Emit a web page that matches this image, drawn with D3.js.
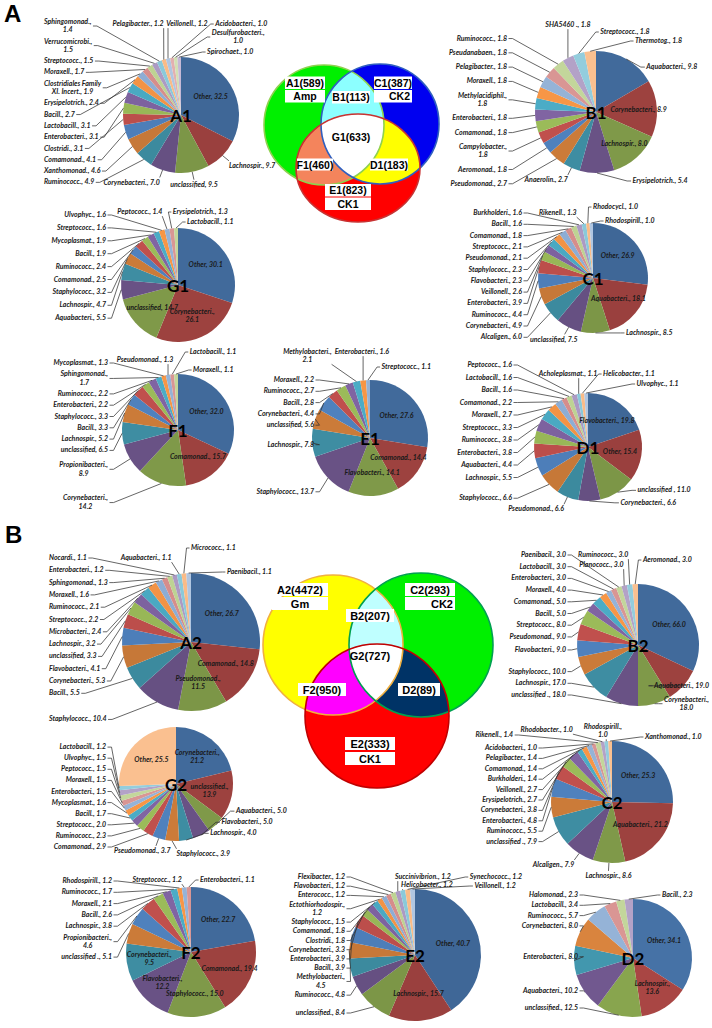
<!DOCTYPE html>
<html>
<head>
<meta charset="utf-8">
<script src="https://cdn.jsdelivr.net/npm/d3@7"></script>
<style>
  body { margin: 0; background: #fff; }
  svg { display: block; }
  .lbl { font-family: Lato, "Liberation Sans", sans-serif; font-size: 7px; font-weight: 700; font-style: italic; fill: #1a1a1a; }
  .ser { font-family: Lato, "Open Sans", sans-serif; font-size: 17px; font-weight: 700; fill: #000; }
  .vtx { font-family: "Liberation Sans", Arial, sans-serif; font-size: 10.5px; font-weight: 700; fill: #000; }
  .panel { font-family: "Liberation Sans", Arial, sans-serif; font-size: 24px; font-weight: 700; fill: #000; }
</style>
</head>
<body>
<div id="chart"></div>
<script>
// ---------- data ----------
const a1Names = ["Other","Lachnospir.","unclassified","Corynebacteri.","Ruminococc.","Xanthomonad.","Comamonad.","Clostridi.","Enterobacteri.","Lactobacill.","Bacill.","Erysipelotrich.","Clostridiales Family XI. Incert.","Moraxell.","Streptococc.","Verrucomicrobi.","Sphingomonad.","Pelagibacter.","Veillonell.","Acidobacteri.","Desulfurobacteri.","Spirochaet."];
const a1Values = [32.5,9.7,9.5,7.0,4.9,4.6,4.1,3.1,3.1,3.1,2.7,2.4,1.9,1.7,1.5,1.5,1.4,1.2,1.2,1.0,1.0,1.0];

const b1Names = ["Aquabacteri.","Corynebacteri.","Lachnospir.","Erysipelotrich.","Anaerolin.","Pseudomonad.","Aeromonad.","Campylobacter.","Comamonad.","Enterobacteri.","Methylacidiphil.","Moraxell.","Pelagibacter.","Pseudanabaen.","Ruminococc.","SHA5460 .","Streptococc.","Thermotog."];
const b1Values = [9.8,8.9,8.0,5.4,2.7,2.7,1.8,1.8,1.8,1.8,1.8,1.8,1.8,1.8,1.8,1.8,1.8,1.8];

const g1Names = ["Other","Corynebacteri.","unclassified","Aquabacteri.","Lachnospir.","Staphylococc.","Comamonad.","Ruminococc.","Bacill.","Mycoplasmat.","Streptococc.","Ulvophyc.","Peptococc.","Erysipelotrich.","Lactobacill."];
const g1Values = [30.1,26.1,14.7,5.5,4.7,3.2,2.5,2.4,1.9,1.9,1.6,1.6,1.4,1.3,1.1];

const c1Names = ["Other","Aquabacteri.","Lachnospir.","unclassified","Alcaligen.","Corynebacteri.","Ruminococc.","Enterobacteri.","Veillonell.","Flavobacteri.","Staphylococc.","Pseudomonad.","Streptococc.","Comamonad.","Bacill.","Burkholderi.","Rikenell.","Rhodocycl.","Rhodospirill."];
const c1Values = [26.9,18.1,8.5,7.5,6.0,4.9,4.4,3.9,2.6,2.3,2.3,2.1,2.1,1.8,1.6,1.6,1.3,1.0,1.0];

const f1Names = ["Other","Comamonad.","Corynebacteri.","Propionibacteri.","unclassified","Lachnospir.","Bacill.","Staphylococc.","Enterobacteri.","Ruminococc.","Sphingomonad.","Mycoplasmat.","Pseudomonad.","Lactobacill.","Moraxell."];
const f1Values = [32.0,15.7,14.2,8.9,6.5,5.2,3.3,3.3,2.2,2.2,1.7,1.3,1.3,1.1,1.1];

const e1Names = ["Other","Comamonad.","Flavobacteri.","Staphylococc.","Lachnospir.","unclassified","Corynebacteri.","Bacill.","Ruminococc.","Moraxell.","Methylobacteri.","Enterobacteri.","Streptococc."];
const e1Values = [27.6,14.4,14.1,13.7,7.8,5.6,4.4,2.8,2.7,2.2,2.1,1.6,1.1];

const d1Names = ["Flavobacteri.","Other","unclassified ","Corynebacteri.","Pseudomonad.","Staphylococc.","Lachnospir.","Aquabacteri.","Enterobacteri.","Ruminococc.","Streptococc.","Moraxell.","Comamonad.","Bacill.","Lactobacill.","Peptococc.","Acholeplasmat.","Helicobacter.","Ulvophyc."];
const d1Values = [19.8,15.4,11.0,6.6,6.6,6.6,5.5,4.4,3.8,3.8,3.3,2.7,2.2,1.6,1.6,1.6,1.1,1.1,1.1];

const a2Names = ["Other","Comamonad.","Pseudomonad.","Staphylococc.","Bacill.","Corynebacteri.","Flavobacteri.","unclassified","Lachnospir.","Microbacteri.","Streptococc.","Ruminococc.","Moraxell.","Sphingomonad.","Enterobacteri.","Nocardi.","Aquabacteri.","Micrococc.","Paenibacil."];
const a2Values = [26.7,14.8,11.5,10.4,5.5,5.3,4.1,3.3,3.2,2.4,2.2,2.1,1.6,1.3,1.2,1.1,1.1,1.1,1.1];

const b2Names = ["Other","Aquabacteri.","Corynebacteri.","unclassified .","Lachnospir.","Staphylococc.","Flavobacteri.","Pseudomonad.","Streptococc.","Bacill.","Comamonad.","Moraxell.","Enterobacteri.","Lactobacill.","Paenibacil.","Planococc.","Ruminococc.","Aeromonad."];
const b2Values = [66.0,19.0,18.0,18.0,17.0,10.0,9.0,9.0,8.0,5.0,5.0,4.0,3.0,3.0,3.0,3.0,3.0,3.0];

const g2Names = ["Corynebacteri.","unclassified.","Aquabacteri.","Flavobacteri.","Lachnospir.","Staphylococc.","Pseudomonad.","Comamonad.","Ruminococc.","Streptococc.","Bacill.","Mycoplasmat.","Enterobacteri.","Moraxell.","Peptococc.","Ulvophyc.","Lactobacill.","Other"];
const g2Values = [21.2,13.9,5.0,5.0,4.0,3.9,3.7,2.9,2.3,2.0,1.7,1.6,1.5,1.5,1.5,1.5,1.2,25.5];

const c2Names = ["Other","Aquabacteri.","Lachnospir.","Alcaligen.","unclassified .","Ruminococc.","Enterobacteri.","Corynebacteri.","Erysipelotrich.","Veillonell.","Burkholderi.","Comamonad.","Pelagibacter.","Acidobacteri.","Rikenell.","Rhodobacter.","Rhodospirill.","Xanthomonad."];
const c2Values = [25.3,21.2,8.6,7.9,7.9,5.5,4.8,3.8,2.7,2.7,1.4,1.4,1.4,1.0,1.4,1.0,1.0,1.0];

const f2Names = ["Other","Comamonad.","Staphylococc.","Flavobacteri.","Corynebacteri.","unclassified .","Propionibacteri.","Lachnospir.","Bacill.","Moraxell.","Ruminococc.","Rhodospirill.","Streptococc.","Enterobacteri."];
const f2Values = [22.7,19.4,15.0,12.2,9.5,5.1,4.6,3.8,2.6,2.1,1.7,1.2,1.2,1.1];

const e2Names = ["Other","Lachnospir.","unclassified.","Ruminococc.","Methylobacteri.","Bacill.","Enterobacteri.","Corynebacteri.","Clostridi.","Comamonad.","Staphylococc.","Ectothiorhodospir.","Enterococc.","Flavobacteri.","Flexibacter.","Succinivibrion.","Helicobacter.","Synechococc.","Veillonell."];
const e2Values = [40.7,15.7,8.4,4.8,4.5,3.9,3.9,3.3,1.8,1.8,1.5,1.2,1.2,1.2,1.2,1.2,1.2,1.2,1.2];

const d2Names = ["Other","Lachnospir.","unclassified.","Aquabacteri.","Enterobacteri.","Corynebacteri.","Ruminococc.","Lactobacill.","Halomonad.","Bacill."];
const d2Values = [34.1,13.6,12.5,10.2,8.0,8.0,5.7,3.4,2.3,2.3];

// Venn region labels
const venn1Text = ["A1(589)","Amp","B1(113)","C1(387)","CK2","G1(633)","F1(460)","D1(183)","E1(823)","CK1"];
const venn2Text = ["A2(4472)","Gm","B2(207)","C2(293)","CK2","G2(727)","F2(950)","D2(89)","E2(333)","CK1"];

// ---------- layout ----------
const W = 712, H = 1028, LH = 8.3;
const svg = d3.select("#chart").append("svg").attr("width", W).attr("height", H);

const pies = [
  {id:"A1", names:a1Names, values:a1Values, cx:181, cy:115, r:58, inside:["Other"], bottom:[130,210],
   colX:44, colAnchor:"start", colTop:26, pad:3,
   wrap:["Sphingomonad.","Verrucomicrobi.","Clostridiales Family XI. Incert.","Desulfurobacteri."],
   topPos:[["middle",-0.74,-33],["middle",0.1,-33],["start",0.59,-33],["start",0.53,-20],["start",0.45,-5]]},
  {id:"B1", names:b1Names, values:b1Values, cx:596, cy:112, r:61, inside:["Corynebacteri.","Lachnospir."], inR:0.7, bottom:[190,212],
   colX:507, colTop:31, pad:6, rDy:8, wrap:["Methylacidiphil.","Campylobacter."],
   topPos:[["middle",-0.46,-26],["start",0.07,-19],["start",0.64,-10]]},
  {id:"G1", names:g1Names, values:g1Values, cx:178, cy:285, r:57, inside:["Other","Corynebacteri.","unclassified"], bottom:[180,200],
   colX:106, colTop:215, pad:4.6, wrap:["Corynebacteri."],
   topPos:[["middle",-0.67,-16],["start",-0.09,-16],["start",0.16,-6]]},
  {id:"C1", names:c1Names, values:c1Values, cx:593, cy:278, r:55, inside:["Other","Aquabacteri."], bottom:[181,215],
   colX:522, colTop:213, pad:3, wrap:[],
   topPos:[["middle",-0.64,-10],["start",0,-16],["start",0.22,-2]]},
  {id:"F1", names:f1Names, values:f1Values, cx:178, cy:430, r:56, inside:["Other","Comamonad."], bottom:[180,180],
   colX:108, colTop:363, pad:3, wrap:["Sphingomonad.","Propionibacteri.","Corynebacteri."],
   topPos:[["middle",-0.59,-14],["start",0.21,-22],["start",0.27,-4]]},
  {id:"E1", names:e1Names, values:e1Values, cx:370, cy:438, r:58, inside:["Other","Comamonad.","Flavobacteri."], bottom:[200,200],
   colX:314, colTop:380, pad:3, wrap:["Methylobacteri."],
   topPos:[["middle",-1.08,-24],["middle",-0.14,-28],["start",0.2,-13]]},
  {id:"D1", names:d1Names, values:d1Values, cx:588, cy:447, r:54, inside:["Flavobacteri.","Other"], bottom:[185,212],
   colX:512, colTop:365, pad:4.2, wrap:[],
   topPos:[["middle",-0.37,-19],["start",0.28,-19],["start",0.9,-9]]},
  {id:"A2", names:a2Names, values:a2Values, cx:191, cy:642, r:69, inside:["Other","Comamonad.","Pseudomonad."], bottom:[200,200],
   colX:49, colAnchor:"start", colTop:558, pad:4, wrap:["Pseudomonad."],
   topPos:[["middle",-0.65,-15],["start",0,-25],["start",0.52,-1]]},
  {id:"B2", names:b2Names, values:b2Values, cx:638, cy:645, r:61, inside:["Other"], bottom:[190,190],
   colX:566, colTop:555, colBot:695, pad:3.4, wrap:["Corynebacteri."],
   topPos:[["middle",-0.6,-19],["middle",-0.57,-29],["start",0.08,-24]]},
  {id:"G2", names:g2Names, values:g2Values, cx:176, cy:784, r:57, inside:["Corynebacteri.","unclassified.","Other"], bottom:[180,203],
   colX:106, colTop:747, colBot:847, pad:2.8, rDy:-11, wrap:["Corynebacteri.","unclassified."], topPos:[]},
  {id:"C2", names:c2Names, values:c2Values, cx:612, cy:802, r:61, inside:["Other","Aquabacteri."], bottom:[175,222],
   colX:537, colTop:748, colBot:842, pad:2.1, wrap:["Rhodospirill."],
   topPos:[["end",-1.62,-6],["middle",-1.07,-11],["middle",-0.15,-10],["start",0.54,-4]]},
  {id:"F2", names:f2Names, values:f2Values, cx:191, cy:952, r:65, inside:["Other","Comamonad.","Staphylococc.","Flavobacteri.","Corynebacteri."], inR:0.65, bottom:[200,200],
   colX:112, colTop:881, pad:3, wrap:["Flavobacteri.","Corynebacteri.","Propionibacteri."],
   topPos:[["middle",-0.52,-7],["start",0.14,-7]]},
  {id:"E2", names:e2Names, values:e2Values, cx:415, cy:955, r:66, inside:["Other","Lachnospir."], bottom:[200,200],
   colX:345, colTop:877, colBot:1013, pad:0.9, wrap:["Ectothiorhodospir.","Methylobacteri."],
   topPos:[["middle",0.12,-12],["middle",0.18,-4],["start",0.83,-12],["start",0.9,-3]]},
  {id:"D2", names:d2Names, values:d2Values, cx:633, cy:958, r:59, inside:["Other","Lachnospir."], bottom:[180,180],
   colX:578, colTop:895, colBot:1008, colDy:-4, colR:64, pad:2, wrap:["Lachnospir."],
   topPos:[["start",0.49,-4]]}
];

// Excel-like colours: six accents, shaded/tinted per cycle
const accents = ["#4F81BD","#C0504D","#9BBB59","#8064A2","#4BACC6","#F79646"];
const shadeTable = {1:[0], 2:[-0.12,0.4], 3:[-0.18,0,0.4], 4:[-0.2,-0.02,0.35,0.55]};
function sliceColor(i, n) {
  const C = Math.min(4, Math.ceil(n / 6)), c = Math.floor(i / 6);
  const b = d3.rgb(accents[i % 6]);
  const s = shadeTable[C][Math.min(c, C - 1)];
  if (s < 0) return d3.rgb(b.r * (1 + s), b.g * (1 + s), b.b * (1 + s)).formatHex();
  return d3.rgb(b.r + (255 - b.r) * s, b.g + (255 - b.g) * s, b.b + (255 - b.b) * s).formatHex();
}

function labelLines(name, v, wrap) {
  const val = v.toFixed(1);
  if (!wrap) return [name + ", " + val];
  const words = name.split(" ");
  if (words.length > 2) return [words.slice(0, 2).join(" "), words.slice(2).join(" ") + ", " + val];
  return [name + ",", val];
}

function measure(lines) {
  const t = svg.append("text").attr("class", "lbl");
  let w = 0;
  lines.forEach(s => { w = Math.max(w, t.append("tspan").text(s).node().getComputedTextLength()); });
  t.remove();
  return w;
}

// spread labels vertically, then keep them inside [yMin, yMax]
function relax(items, pad, yMin, yMax) {
  items.sort((p, q) => p.y - q.y);
  const need = (p, q) => (p.h + q.h) / 2 + pad;
  for (let it = 0; it < 300; it++) {
    let moved = false;
    for (let k = 1; k < items.length; k++) {
      const p = items[k - 1], q = items[k], d = q.y - p.y, nd = need(p, q);
      if (d < nd - 0.01) { const s = (nd - d) / 2; p.y -= s; q.y += s; moved = true; }
    }
    if (!moved) break;
  }
  const n = items.length;
  if (!n) return;
  if (yMin != null && items[0].y < yMin) {
    items[0].y = yMin;
    for (let k = 1; k < n; k++) items[k].y = Math.max(items[k].y, items[k - 1].y + need(items[k - 1], items[k]));
  }
  if (yMax != null && items[n - 1].y > yMax) {
    items[n - 1].y = yMax;
    for (let k = n - 2; k >= 0; k--) items[k].y = Math.min(items[k].y, items[k + 1].y - need(items[k], items[k + 1]));
  }
}

const leaderLine = d3.line();

function drawPie(cfg) {
  const g = svg.append("g").attr("class", "pie-" + cfg.id);
  const n = cfg.names.length;
  const rows = cfg.names.map((name, i) => ({ name, v: cfg.values[i] }));
  const arcs = d3.pie().sort(null).value(d => d.v)(rows);
  const arc = d3.arc().innerRadius(0).outerRadius(cfg.r);
  const nTop = cfg.topPos.length;

  g.append("g").attr("transform", `translate(${cfg.cx},${cfg.cy})`)
    .selectAll("path").data(arcs).join("path")
    .attr("d", arc)
    .attr("fill", d => sliceColor(d.index, n));

  const leads = g.append("g").attr("fill", "none").attr("stroke", "#333").attr("stroke-width", 0.75);
  const texts = g.append("g");

  const items = arcs.map(a => {
    const m = (a.startAngle + a.endAngle) / 2, deg = m * 180 / Math.PI;
    const lines = labelLines(a.data.name, a.data.v, cfg.wrap.includes(a.data.name));
    const it = { a, m, lines, w: measure(lines), h: lines.length * LH };
    it.ex = cfg.cx + cfg.r * Math.sin(m);
    it.ey = cfg.cy - cfg.r * Math.cos(m);
    if (cfg.inside.includes(a.data.name)) it.zone = "in";
    else if (a.index >= n - nTop) it.zone = "top";
    else if (deg < cfg.bottom[0]) it.zone = "right";
    else if (deg <= cfg.bottom[1]) it.zone = "bottom";
    else it.zone = "left";
    return it;
  });
  const zone = z => items.filter(it => it.zone === z);
  const setX = (it, x, anchor) => {
    it.xc = anchor === "end" ? x - it.w / 2 : anchor === "start" ? x + it.w / 2 : x;
  };

  zone("in").forEach(it => {
    const R = (cfg.inR || 0.6) * cfg.r;
    setX(it, cfg.cx + R * Math.sin(it.m), "middle");
    it.yc = cfg.cy - R * Math.cos(it.m);
  });

  const left = zone("left");
  const colR = cfg.colR || cfg.r + 20;
  left.forEach(it => { it.y = cfg.cy + (cfg.colDy || 0) - colR * Math.cos(it.m); });
  relax(left, cfg.pad, cfg.colTop, cfg.colBot);
  left.forEach(it => {
    setX(it, cfg.colX, cfg.colAnchor || "end");
    it.yc = it.y;
    const lx = it.xc + it.w / 2 + 1.5;
    it.lead = [[lx, it.yc], [lx + 4, it.yc], [it.ex, it.ey]];
  });

  const right = zone("right");
  right.forEach(it => { it.y = it.ey + (cfg.rDy || 0); });
  relax(right, cfg.pad);
  right.forEach(it => {
    let x = Math.max(it.ex + 20, cfg.cx + 0.6 * cfg.r);
    if (x + it.w > W - 3) x = W - 3 - it.w;
    setX(it, x, "start");
    it.yc = it.y;
    const lx = it.xc - it.w / 2 - 1.5;
    it.lead = [[lx, it.yc], [lx - 4, it.yc], [it.ex, it.ey]];
  });

  const bottom = zone("bottom");
  bottom.forEach(it => {
    const R = cfg.r + 9, sn = Math.sin(it.m);
    const px = cfg.cx + R * sn, py = cfg.cy - R * Math.cos(it.m);
    setX(it, px, sn > 0.3 ? "start" : sn < -0.3 ? "end" : "middle");
    it.yc = py + it.h / 2;
    it.px = px;
    // stay clear of the column labels on the left
    left.forEach(l => {
      if (Math.abs(l.yc - it.yc) < (l.h + it.h) / 2 + 1) {
        const lr = l.xc + l.w / 2 + 8;
        if (it.xc - it.w / 2 < lr) it.xc = lr + it.w / 2;
      }
    });
  });
  bottom.sort((p, q) => p.xc - q.xc);
  for (let k = 1; k < bottom.length; k++) {
    const p = bottom[k - 1], q = bottom[k];
    const nd = (p.w + q.w) / 2 + 6;
    if (Math.abs(p.yc - q.yc) < (p.h + q.h) / 2) q.xc = Math.max(q.xc, p.xc + nd);
  }
  bottom.forEach(it => {
    const tx = Math.max(it.xc - it.w / 2, Math.min(it.xc + it.w / 2, it.px));
    it.lead = [[it.ex, it.ey], [tx, it.yc - it.h / 2 - 1]];
  });

  zone("top").forEach((it, j) => {
    const p = cfg.topPos[j];
    setX(it, cfg.cx + p[1] * cfg.r, p[0]);
    it.yc = cfg.cy - cfg.r + p[2];
    if (p[0] === "start") {
      const lx = it.xc - it.w / 2 - 1.5;
      it.lead = [[lx, it.yc], [lx - 3, it.yc], [it.ex, it.ey]];
    } else if (p[0] === "end") {
      const lx = it.xc + it.w / 2 + 1.5;
      it.lead = [[lx, it.yc], [lx + 4, it.yc], [it.ex, it.ey]];
    } else {
      const tx = Math.max(it.xc - it.w / 2, Math.min(it.xc + it.w / 2, it.ex));
      it.lead = [[tx, it.yc + it.h / 2], [it.ex, it.ey]];
    }
  });

  items.forEach(it => {
    if (it.lead) leads.append("path").attr("d", leaderLine(it.lead));
    const t = texts.append("text").attr("class", "lbl").attr("text-anchor", "middle");
    it.lines.forEach((s, k) => {
      t.append("tspan").attr("x", it.xc).attr("y", it.yc - it.h / 2 + LH * k + 6.2).text(s);
    });
  });

  g.append("text").attr("class", "ser")
    .attr("x", cfg.cx).attr("y", cfg.cy)
    .attr("text-anchor", "middle").attr("dominant-baseline", "central")
    .text(cfg.id);
}

// ---------- Venn diagrams ----------
function drawVenn(id, sets, fills, strokes, texts, boxes) {
  const g = svg.append("g").attr("class", "venn-" + id);
  const defs = g.append("defs");
  sets.forEach((s, i) => {
    defs.append("clipPath").attr("id", `${id}c${i}`)
      .append("ellipse").attr("cx", s.cx).attr("cy", s.cy).attr("rx", s.rx).attr("ry", s.ry);
  });
  const ell = (parent, s) => parent.append("ellipse").attr("cx", s.cx).attr("cy", s.cy).attr("rx", s.rx).attr("ry", s.ry);
  sets.forEach((s, i) => ell(g, s).attr("fill", fills.single[i]));
  [[0, 1], [0, 2], [1, 2]].forEach(([p, q], k) => {
    ell(g.append("g").attr("clip-path", `url(#${id}c${p})`), sets[q]).attr("fill", fills.pair[k]);
  });
  ell(g.append("g").attr("clip-path", `url(#${id}c0)`).append("g").attr("clip-path", `url(#${id}c1)`), sets[2]).attr("fill", "#fff");
  sets.forEach((s, i) => ell(g, s).attr("fill", "none").attr("stroke", strokes[i]).attr("stroke-width", 1.6));
  boxes.forEach(b => {
    if (b.box) g.append("rect").attr("x", b.x).attr("y", b.y).attr("width", b.w).attr("height", b.h).attr("fill", "#fff");
    const tx = b.align === "end" ? b.x + b.w - 2 : b.x + b.w / 2;
    g.append("text").attr("class", "vtx").attr("x", tx).attr("y", b.y + b.h / 2)
      .attr("text-anchor", b.align === "end" ? "end" : "middle").attr("dominant-baseline", "central")
      .style("font-size", (b.fs || 10.5) + "px")
      .text(texts[b.t]);
  });
}

drawVenn("v1",
  [{cx:324, cy:125, rx:60, ry:60}, {cx:380, cy:124, rx:59, ry:60}, {cx:358, cy:168, rx:62, ry:54}],
  {single:["#00F000","#0000F0","#FF0000"], pair:["#8CFFFF","#F4845C","#FFFF00"]},
  ["#8FD14F","#2F5FC0","#C83232"],
  venn1Text,
  [{t:0, x:285, y:76.5, w:40, h:12.5, box:true}, {t:1, x:285, y:90, w:40, h:12.5, box:true},
   {t:2, x:332, y:91, w:38, h:12.5, box:true},
   {t:3, x:374, y:76.5, w:38, h:12.5, box:true}, {t:4, x:374, y:90, w:38, h:12.5, box:true, align:"end"},
   {t:5, x:332, y:131, w:38, h:12.5, box:false},
   {t:6, x:297, y:158.5, w:36, h:12, box:true}, {t:7, x:370, y:158.5, w:38, h:12, box:true},
   {t:8, x:325, y:184, w:46, h:12.5, box:true}, {t:9, x:325, y:197.5, w:46, h:12.5, box:true}]);

drawVenn("v2",
  [{cx:333, cy:645, rx:70, ry:70}, {cx:421, cy:645, rx:72, ry:72}, {cx:377, cy:716, rx:72, ry:72}],
  {single:["#FFFF00","#00F000","#FF0000"], pair:["#BFFFFF","#FF00FF","#003366"]},
  ["#F0B040","#00A050","#C00000"],
  venn2Text,
  [{t:0, x:272, y:583, w:56, h:13, box:true, fs:11}, {t:1, x:272, y:597, w:56, h:13, box:true, fs:11},
   {t:2, x:346, y:609, w:48, h:13, box:true, fs:11},
   {t:3, x:405, y:583, w:50, h:13, box:true, fs:11}, {t:4, x:405, y:597, w:50, h:13, box:true, fs:11, align:"end"},
   {t:5, x:346, y:649, w:48, h:13, box:false, fs:11},
   {t:6, x:298, y:683, w:48, h:13, box:true, fs:11}, {t:7, x:398, y:683, w:42, h:13, box:true, fs:11},
   {t:8, x:345, y:737, w:50, h:13, box:true, fs:11}, {t:9, x:345, y:752, w:50, h:13, box:true, fs:11}]);

pies.forEach(drawPie);

// panel letters
svg.append("text").attr("class", "panel").attr("x", 4).attr("y", 22).text("A");
svg.append("text").attr("class", "panel").attr("x", 5).attr("y", 543).text("B");
</script>
</body>
</html>
